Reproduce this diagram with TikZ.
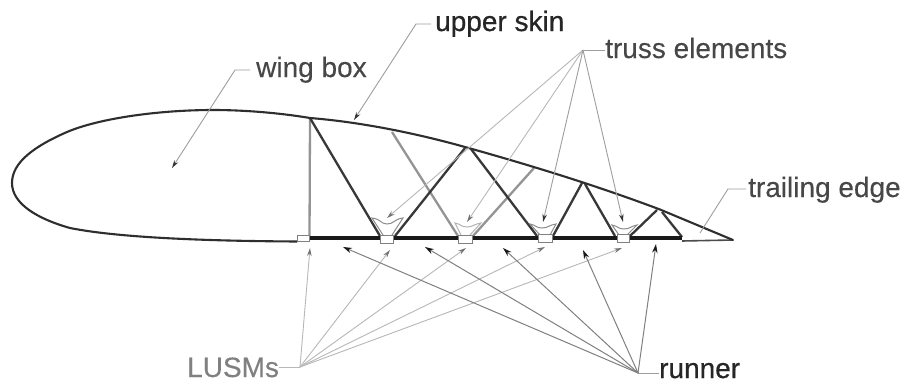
\documentclass[tikz,border=0pt]{standalone}
\usepackage{fontspec}
\setmainfont{Liberation Sans}
\newfontfamily\boldish[FakeBold=0.6]{Liberation Sans}
\newfontfamily\midweight[FakeBold=0.25]{Liberation Sans}
\usetikzlibrary{arrows.meta}
\tikzset{
  skinline/.style={line width=2.1pt,color=black!82,line join=round,line cap=round},
  trussdark/.style={line width=2.3pt,color=black!78},
  trussgray/.style={line width=2.3pt,color=black!42},
  runnerline/.style={line width=3.6pt,color=black!90},
  cup/.style={line width=1pt,color=black!45},
  usm/.style={draw=black!50,line width=1pt,fill=white},
  leader/.style={line width=0.9pt,color=black!38},
  leadarrow/.style={line width=0.9pt,color=black!38,-{Stealth[length=8pt,width=4.5pt,color=black!80]}},
  lightarrow/.style={line width=0.9pt,color=black!28,-{Stealth[length=8pt,width=4.5pt,color=black!55]}},
  runarrow/.style={line width=1pt,color=black!50,-{Stealth[length=9pt,width=5.5pt,color=black!90]}},
  lab/.style={font=\midweight\fontsize{28}{30}\selectfont,anchor=base west,inner sep=0pt,text=black!72},
  labdark/.style={font=\boldish\fontsize{28}{30}\selectfont,anchor=base west,inner sep=0pt,text=black!85},
  lablight/.style={font=\midweight\fontsize{28}{30}\selectfont,anchor=base west,inner sep=0pt,text=black!50},
}
\begin{document}
\begin{tikzpicture}[x=1pt,y=-1pt]
\useasboundingbox[fill=white] (0,0) rectangle (906,383);
% named points
\coordinate (te) at (733,240);
\coordinate (j1) at (310,118);
\coordinate (b1) at (380,236);
\coordinate (b2) at (395,236);
\coordinate (j2) at (465,148);
\coordinate (g1t) at (392,132);
\coordinate (g1b) at (458,236);
\coordinate (g2b) at (473,236);
\coordinate (g2t) at (534,168);
\coordinate (j2r) at (471,149);
\coordinate (b3) at (537,236);
\coordinate (b4) at (553,236);
\coordinate (j3) at (582,183);
\coordinate (j3r) at (585,184);
\coordinate (b5) at (615,236);
\coordinate (b6) at (630,236);
\coordinate (j4) at (657,210);
\coordinate (j4r) at (662,212);
\coordinate (b7) at (682,237);
% truss
\draw[trussgray] (j1) -- (309.5,240);
\draw[trussgray] (g1t) -- (g1b);
\draw[trussgray] (g2b) -- (g2t);
\draw[trussdark] (j1) -- (b1);
\draw[trussdark] (b2) -- (j2);
\draw[trussdark] (j2r) -- (b3);
\draw[trussdark] (b4) -- (j3);
\draw[trussdark] (j3r) -- (b5);
\draw[trussdark] (b6) -- (j4);
\draw[trussdark] (j4r) -- (b7);
% runner and lower skin
\draw[runnerline] (310,238) -- (682,238);
\draw[line width=1.6pt,color=black!70] (682,241) -- (te);
% airfoil skin
\draw[skinline] (te) -- (660,209.5) .. controls (600,187) and (540,168) .. (465,147)
  .. controls (415,133) and (360,122) .. (j1)
  .. controls (280,113) and (245,110) .. (213,110)
  .. controls (160,110) and (100,118) .. (67,132)
  .. controls (35,146) and (12,162) .. (12,183)
  .. controls (12,204) and (38,219) .. (70,228)
  .. controls (120,238) and (210,241) .. (297,241.5);
% cups
\draw[cup] (383,235) -- (372,218) .. controls (381,219) and (381,224) .. (387,224) .. controls (394,224) and (394,219) .. (403,218) -- (392,235);
\draw[cup,color=black!30] (461,235) -- (455,223) .. controls (461,224) and (461,227) .. (467,227) .. controls (473,227) and (474,224) .. (481,223) -- (470,235);
\draw[cup] (540,235) -- (530,224) .. controls (536,225) and (536,228) .. (542,228) .. controls (548,228) and (549,225) .. (556,224) -- (550,235);
\draw[cup] (619,235) -- (612,225) .. controls (618,226) and (618,229) .. (624,229) .. controls (630,229) and (631,226) .. (637,225) -- (627,235);
% LUSM blocks
\node[usm,minimum width=12pt,minimum height=6pt,inner sep=0pt] (u0) at (303,238.5) {};
\node[usm,minimum width=13pt,minimum height=8pt,inner sep=0pt] (u1) at (387,239) {};
\node[usm,minimum width=14pt,minimum height=8pt,inner sep=0pt] (u2) at (465.5,239) {};
\node[usm,minimum width=14pt,minimum height=8pt,inner sep=0pt] (u3) at (545,238.5) {};
\node[usm,minimum width=12pt,minimum height=8pt,inner sep=0pt] (u4) at (623,238.5) {};
% labels
\node[lab] (wing) at (256,77) {wing box};
\node[labdark] (skin) at (435,31) {upper skin};
\node[lab] (truss) at (605,58) {truss elements};
\node[lab] (trail) at (748,197) {trailing edge};
\node[lablight] (lusm) at (187,377) {LUSMs};
\node[labdark] (run) at (659,378) {runner};
% hubs
\coordinate (thub) at (583,50);
\coordinate (lhub) at (300,367);
\coordinate (rhub) at (638,373);
% leaders
\draw[leadarrow] (250,70) -- (235,70) -- (172,168);
\draw[leadarrow] (431,24) -- (416,24) -- (354,120);
\draw[leader] (746,189) -- (728,189) -- (700,233);
\draw[leader] (truss.west |- thub) -- (thub);
\draw[lightarrow] (thub) -- (387,218);
\draw[lightarrow] (thub) -- (467,222);
\draw[leadarrow] (thub) -- (543,222);
\draw[leadarrow] (thub) -- (623,222);
\draw[leader,color=black!28] (lusm.east |- lhub) -- (lhub);
\draw[lightarrow] (lhub) -- (310,248);
\draw[lightarrow] (lhub) -- (390,250);
\draw[lightarrow] (lhub) -- (466,248);
\draw[lightarrow] (lhub) -- (545,247);
\draw[lightarrow] (lhub) -- (622,248);
\draw[leader] (run.west |- rhub) -- (rhub);
\draw[runarrow] (rhub) -- (343,247);
\draw[runarrow] (rhub) -- (425,247);
\draw[runarrow] (rhub) -- (503,248);
\draw[runarrow] (rhub) -- (583,250);
\draw[runarrow] (rhub) -- (656,244);
\end{tikzpicture}
\end{document}
